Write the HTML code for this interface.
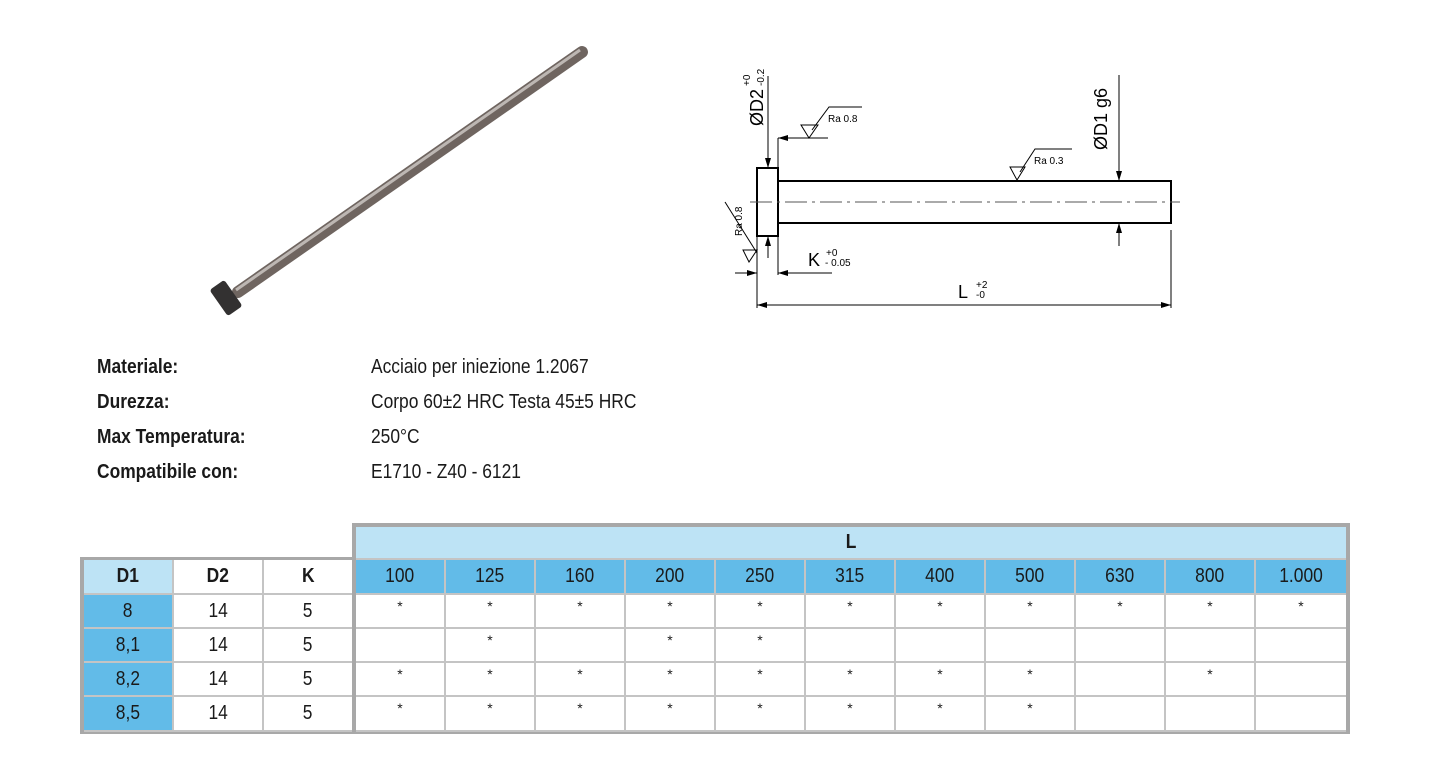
<!DOCTYPE html>
<html><head><meta charset="utf-8"><style>
body{margin:0;width:1445px;height:776px;background:#fff;position:relative;overflow:hidden;font-family:"Liberation Sans",sans-serif;color:#1a1a1a}
.lb,.vl{position:absolute;font-size:20px;transform:scaleX(0.87);transform-origin:left top;white-space:nowrap}
.lb{left:97px;font-weight:bold}
.vl{left:371px}
.c{position:absolute;box-sizing:border-box;text-align:center;font-size:20px;border-right:2px solid #c4c4c4;border-bottom:2px solid #c4c4c4}
.c span{display:inline-block;transform:scaleX(0.87)}
.s{font-size:14px}
.lt{background:#bde3f5}.bl{background:#62bbe8}
</style></head><body>
<svg width="1445" height="776" style="position:absolute;left:0;top:0">
<defs>
<marker id="a" markerWidth="10" markerHeight="6" refX="10" refY="3" orient="auto" markerUnits="userSpaceOnUse"><path d="M0,0L10,3L0,6z" fill="#000"/></marker>
<marker id="b" markerWidth="10" markerHeight="6" refX="0" refY="3" orient="auto" markerUnits="userSpaceOnUse"><path d="M10,0L0,3L10,6z" fill="#000"/></marker>
</defs>
<line x1="582" y1="52" x2="238" y2="292" stroke="#6f6560" stroke-width="12" stroke-linecap="round"/>
<line x1="580" y1="50" x2="236" y2="290" stroke="#bdb7b3" stroke-width="3"/>
<g transform="translate(226,298) rotate(-35)"><rect x="-9" y="-16" width="18" height="32" rx="3" fill="#333131"/></g>
<g stroke="#000" fill="none" stroke-width="1">
<rect x="757" y="168" width="21" height="68" stroke-width="2"/>
<rect x="778" y="181" width="393" height="42" stroke-width="2"/>
<line x1="750" y1="202" x2="1180" y2="202" stroke="#555" stroke-dasharray="22,5,3,5"/>
<line x1="768" y1="76" x2="768" y2="168" marker-end="url(#a)"/>
<line x1="768" y1="258" x2="768" y2="236" marker-end="url(#a)"/>
<line x1="1119" y1="75" x2="1119" y2="181" marker-end="url(#a)"/>
<line x1="1119" y1="246" x2="1119" y2="223" marker-end="url(#a)"/>
<line x1="778" y1="138" x2="778" y2="170"/>
<line x1="828" y1="138" x2="778" y2="138" marker-end="url(#a)"/>
<path d="M801,125L818,125L809,138z"/><path d="M812,130L829,107L862,107"/>
<path d="M1010,167L1025,167L1017,180z"/><path d="M1020,172L1035,149L1072,149"/>
<path d="M743,250L757,250L749,262z"/><path d="M757,253L725,202"/>
<line x1="757" y1="236" x2="757" y2="308"/>
<line x1="778" y1="236" x2="778" y2="275"/>
<line x1="1171" y1="230" x2="1171" y2="308"/>
<line x1="735" y1="273" x2="757" y2="273" marker-end="url(#a)"/>
<line x1="832" y1="273" x2="778" y2="273" marker-end="url(#a)"/>
<line x1="757" y1="305" x2="1171" y2="305" marker-start="url(#b)" marker-end="url(#a)"/>
</g>
<g font-family="Liberation Sans,sans-serif" fill="#000">
<text transform="translate(763,126) rotate(-90)" font-size="18">ØD2</text>
<text transform="translate(750,86) rotate(-90)" font-size="10">+0</text>
<text transform="translate(764,86) rotate(-90)" font-size="10">-0.2</text>
<text transform="translate(1107,150) rotate(-90)" font-size="18">ØD1 g6</text>
<text x="828" y="122" font-size="10">Ra 0.8</text>
<text x="1034" y="164" font-size="10">Ra 0.3</text>
<text transform="translate(742,236) rotate(-90)" font-size="10">Ra 0.8</text>
<text x="808" y="266" font-size="18">K</text>
<text x="826" y="256" font-size="10">+0</text>
<text x="825" y="266" font-size="10">- 0.05</text>
<text x="958" y="298" font-size="18">L</text>
<text x="976" y="288" font-size="10">+2</text>
<text x="976" y="298" font-size="10">-0</text>
</g>
</svg>
<div class="lb" style="top:356px">Materiale:</div><div class="vl" style="top:356px">Acciaio per iniezione 1.2067</div>
<div class="lb" style="top:391px">Durezza:</div><div class="vl" style="top:391px">Corpo 60±2 HRC Testa 45±5 HRC</div>
<div class="lb" style="top:426px">Max Temperatura:</div><div class="vl" style="top:426px">250°C</div>
<div class="lb" style="top:461px">Compatibile con:</div><div class="vl" style="top:461px">E1710 - Z40 - 6121</div>

<!-- table frame -->
<div style="position:absolute;left:352px;top:523px;width:998px;height:211px;background:#a8a8a8"></div>
<div style="position:absolute;left:80px;top:557px;width:276px;height:177px;background:#a8a8a8"></div>
<div class="c lt" style="left:356px;top:527px;width:990px;height:33px;line-height:31px;font-weight:bold;border-right:none"><span>L</span></div>
<div id="t"></div>
<script>
var t=document.getElementById('t'),h='';
var L=['100','125','160','200','250','315','400','500','630','800','1.000'];
var rows=[['8','14','5','11111111111'],['8,1','14','5','01011000000'],['8,2','14','5','11111111010'],['8,5','14','5','11111111000']];
function cell(x,y,w,hh,cls,txt,st){h+='<div class="c '+cls+'" style="left:'+x+'px;top:'+y+'px;width:'+w+'px;height:'+hh+'px;line-height:'+(hh-2)+'px;'+(st||'')+'"><span>'+txt+'</span></div>';}
var hy=560,hh=35;
cell(84,hy,90,hh,'lt','D1','font-weight:bold');cell(174,hy,90,hh,'','D2','font-weight:bold;background:#fff');cell(264,hy,88,hh,'','K','font-weight:bold;background:#fff;border-right:none');
for(var i=0;i<11;i++)cell(356+90*i,hy,i==10?90:90,hh,'bl',L[i],i==10?'border-right:none':'');
for(var r=0;r<4;r++){var y=595+34*r,rh=r==3?35:34;
cell(84,y,90,rh,'bl',rows[r][0]);cell(174,y,90,rh,'',rows[r][1],'background:#fff');cell(264,y,88,rh,'',rows[r][2],'background:#fff;border-right:none');
for(var i=0;i<11;i++)h+='<div class="c s" style="left:'+(356+90*i)+'px;top:'+y+'px;width:90px;height:'+rh+'px;line-height:22px;background:#fff;'+(i==10?'border-right:none':'')+'">'+(rows[r][3][i]=='1'?'*':'')+'</div>';}
t.innerHTML=h;
</script>
</body></html>
